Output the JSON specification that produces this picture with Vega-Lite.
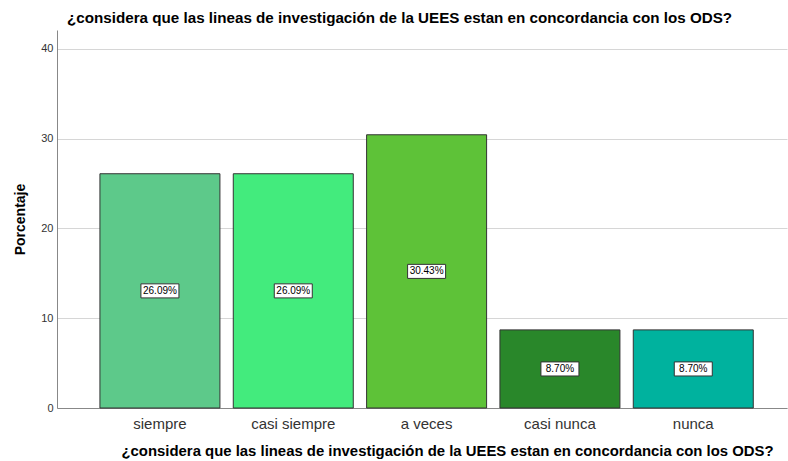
{
  "$schema": "https://vega.github.io/schema/vega-lite/v6.json",
  "width": 730,
  "height": 378,
  "autosize": {"type": "none"},
  "padding": {"left": 57, "top": 30, "right": 1, "bottom": 53},
  "background": "white",
  "title": {
    "text": "¿considera que las lineas de investigación de la UEES estan en concordancia con los ODS?",
    "anchor": "start",
    "frame": "group",
    "dx": 10,
    "offset": 4,
    "font": "Liberation Sans",
    "fontSize": 15.2,
    "fontWeight": "bold",
    "color": "#000000"
  },
  "data": {
    "values": [
      {"respuesta": "siempre", "pct": 26.09, "label": "26.09%"},
      {"respuesta": "casi siempre", "pct": 26.09, "label": "26.09%"},
      {"respuesta": "a veces", "pct": 30.43, "label": "30.43%"},
      {"respuesta": "casi nunca", "pct": 8.70, "label": "8.70%"},
      {"respuesta": "nunca", "pct": 8.70, "label": "8.70%"}
    ]
  },
  "config": {
    "view": {"stroke": null},
    "font": "Liberation Sans"
  },
  "encoding": {
    "x": {
      "field": "respuesta",
      "type": "nominal",
      "sort": ["siempre", "casi siempre", "a veces", "casi nunca", "nunca"],
      "scale": {"paddingInner": 0.1, "paddingOuter": 0.2875, "align": 0.56},
      "axis": {
        "title": "¿considera que las lineas de investigación de la UEES estan en concordancia con los ODS?",
        "titleFont": "Liberation Sans",
        "titleFontSize": 14.9,
        "titleFontWeight": "bold",
        "titleColor": "#000000",
        "titlePadding": 12,
        "titleX": 390,
        "labelAngle": 0,
        "labelFont": "Liberation Sans",
        "labelFontSize": 15,
        "labelColor": "#333333",
        "labelPadding": 8,
        "ticks": false,
        "domainColor": "#888888",
        "grid": false
      }
    }
  },
  "layer": [
    {
      "mark": {"type": "bar", "stroke": "#333333", "strokeWidth": 1},
      "encoding": {
        "y": {
          "field": "pct",
          "type": "quantitative",
          "scale": {"domain": [0, 42.1], "nice": false},
          "axis": {
            "title": "Porcentaje",
            "titleFont": "Liberation Sans",
            "titleFontSize": 14,
            "titleFontWeight": "bold",
            "titleColor": "#000000",
            "titlePadding": 13,
            "values": [0, 10, 20, 30, 40],
            "labelFont": "Liberation Sans",
            "labelFontSize": 11,
            "labelColor": "#333333",
            "labelPadding": 4,
            "ticks": false,
            "domainColor": "#888888",
            "grid": true,
            "gridColor": "#d6d6d6"
          }
        },
        "color": {
          "field": "respuesta",
          "type": "nominal",
          "legend": null,
          "scale": {
            "domain": ["siempre", "casi siempre", "a veces", "casi nunca", "nunca"],
            "range": ["#5dc98a", "#43eb7d", "#5ec238", "#29872a", "#00b29e"]
          }
        }
      }
    },
    {
      "transform": [{"calculate": "datum.pct / 2", "as": "mid"}],
      "mark": {
        "type": "point",
        "shape": "M-1,-0.37L1,-0.37L1,0.37L-1,0.37Z",
        "size": 1444,
        "filled": true,
        "fill": "white",
        "stroke": "#333333",
        "strokeWidth": 1,
        "opacity": 1
      },
      "encoding": {
        "y": {"field": "mid", "type": "quantitative", "title": "Porcentaje"}
      }
    },
    {
      "transform": [{"calculate": "datum.pct / 2", "as": "mid"}],
      "mark": {"type": "text", "font": "Liberation Sans", "fontSize": 10, "color": "#000000", "baseline": "middle", "align": "center"},
      "encoding": {
        "y": {"field": "mid", "type": "quantitative", "title": "Porcentaje"},
        "text": {"field": "label"}
      }
    }
  ]
}
